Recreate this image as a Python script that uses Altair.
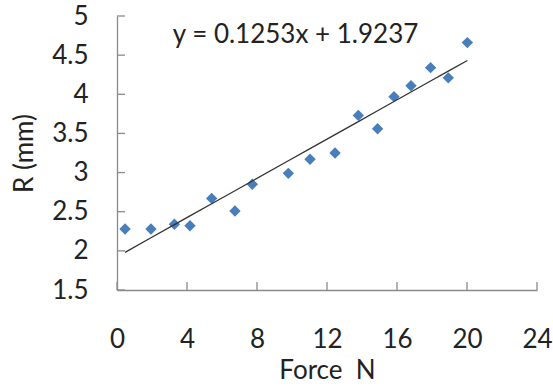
import altair as alt
import pandas as pd

# data
force = [0.46, 1.94, 3.28, 4.17, 5.41, 6.74, 7.73, 9.79, 11.03, 12.46, 13.79, 14.89, 15.83, 16.8, 17.92, 18.93, 20.02]
radius = [2.28, 2.28, 2.34, 2.32, 2.67, 2.51, 2.85, 2.99, 3.17, 3.25, 3.73, 3.56, 3.97, 4.11, 4.34, 4.21, 4.66]
slope = 0.1253
intercept = 1.9237
x_ticks = [0, 4, 8, 12, 16, 20, 24]
y_ticks = [1.5, 2, 2.5, 3, 3.5, 4, 4.5, 5]
eq_text = ["y = 0.1253x + 1.9237"]
eq_x = [10.2]
eq_y = [4.76]

FONT = "Lato"
W, H = 420, 274

df = pd.DataFrame({"force": force, "radius": radius})
xt = pd.DataFrame({"v": x_ticks})
yt = pd.DataFrame({"v": y_ticks})
eq = pd.DataFrame({"label": eq_text, "x": eq_x, "y": eq_y})

xs = alt.Scale(domain=[x_ticks[0], x_ticks[-1]], nice=False, zero=False)
ys = alt.Scale(domain=[y_ticks[0], y_ticks[-1]], nice=False, zero=False)

x_axis = alt.Axis(values=x_ticks, ticks=False, tickSize=0, grid=False,
                  domainColor="#8a8a8a", domainWidth=1.3,
                  labelOverlap=False, labelFlush=False,
                  labelFont=FONT, labelFontSize=26, labelColor="#222222",
                  labelPadding=36, title="Force\u00a0\u00a0N", titleFont=FONT,
                  titleFontSize=26, titleFontWeight="normal", titleColor="#222222",
                  titlePadding=5)
y_axis = alt.Axis(values=y_ticks, ticks=False, tickSize=0, grid=False,
                  labelExpr="'' + datum.value",
                  domainColor="#8a8a8a", domainWidth=1.3,
                  labelOverlap=False, labelFlush=False,
                  labelFont=FONT, labelFontSize=26, labelColor="#222222",
                  labelPadding=29, title="R (mm)", titleFont=FONT,
                  titleFontSize=26, titleFontWeight="normal", titleColor="#222222",
                  titlePadding=14)

pts = alt.Chart(df).mark_point(shape="diamond", filled=True, size=130,
                               color="#4A7EBB", opacity=1).encode(
    x=alt.X("force:Q", scale=xs, axis=x_axis),
    y=alt.Y("radius:Q", scale=ys, axis=y_axis),
)

trend = alt.Chart(df).transform_calculate(
    fit=f"{slope} * datum.force + {intercept}"
).mark_line(color="#333333", strokeWidth=1.3).encode(
    x=alt.X("force:Q", scale=xs, axis=x_axis),
    y=alt.Y("fit:Q", scale=ys, axis=y_axis),
)

xticks = alt.Chart(xt).mark_rule(color="#8a8a8a", strokeWidth=1.3).encode(
    x=alt.X("v:Q", scale=xs, axis=x_axis), y=alt.value(H), y2=alt.value(H - 8))
yticks = alt.Chart(yt).mark_rule(color="#8a8a8a", strokeWidth=1.3).encode(
    y=alt.Y("v:Q", scale=ys, axis=y_axis), x=alt.value(0), x2=alt.value(8))

label = alt.Chart(eq).mark_text(font=FONT, fontSize=26, color="#222222",
                                align="center", baseline="middle").encode(
    x=alt.X("x:Q", scale=xs, axis=x_axis), y=alt.Y("y:Q", scale=ys, axis=y_axis),
    text="label:N")

chart = alt.layer(pts, trend, xticks, yticks, label).properties(
    width=W, height=H,
    autosize=alt.AutoSizeParams(type="none"),
    padding={"left": 117, "top": 16, "right": 16, "bottom": 97},
    background="white",
).configure_view(stroke=None)

chart.save("out.html", embed_options={"renderer": "svg", "actions": False})
